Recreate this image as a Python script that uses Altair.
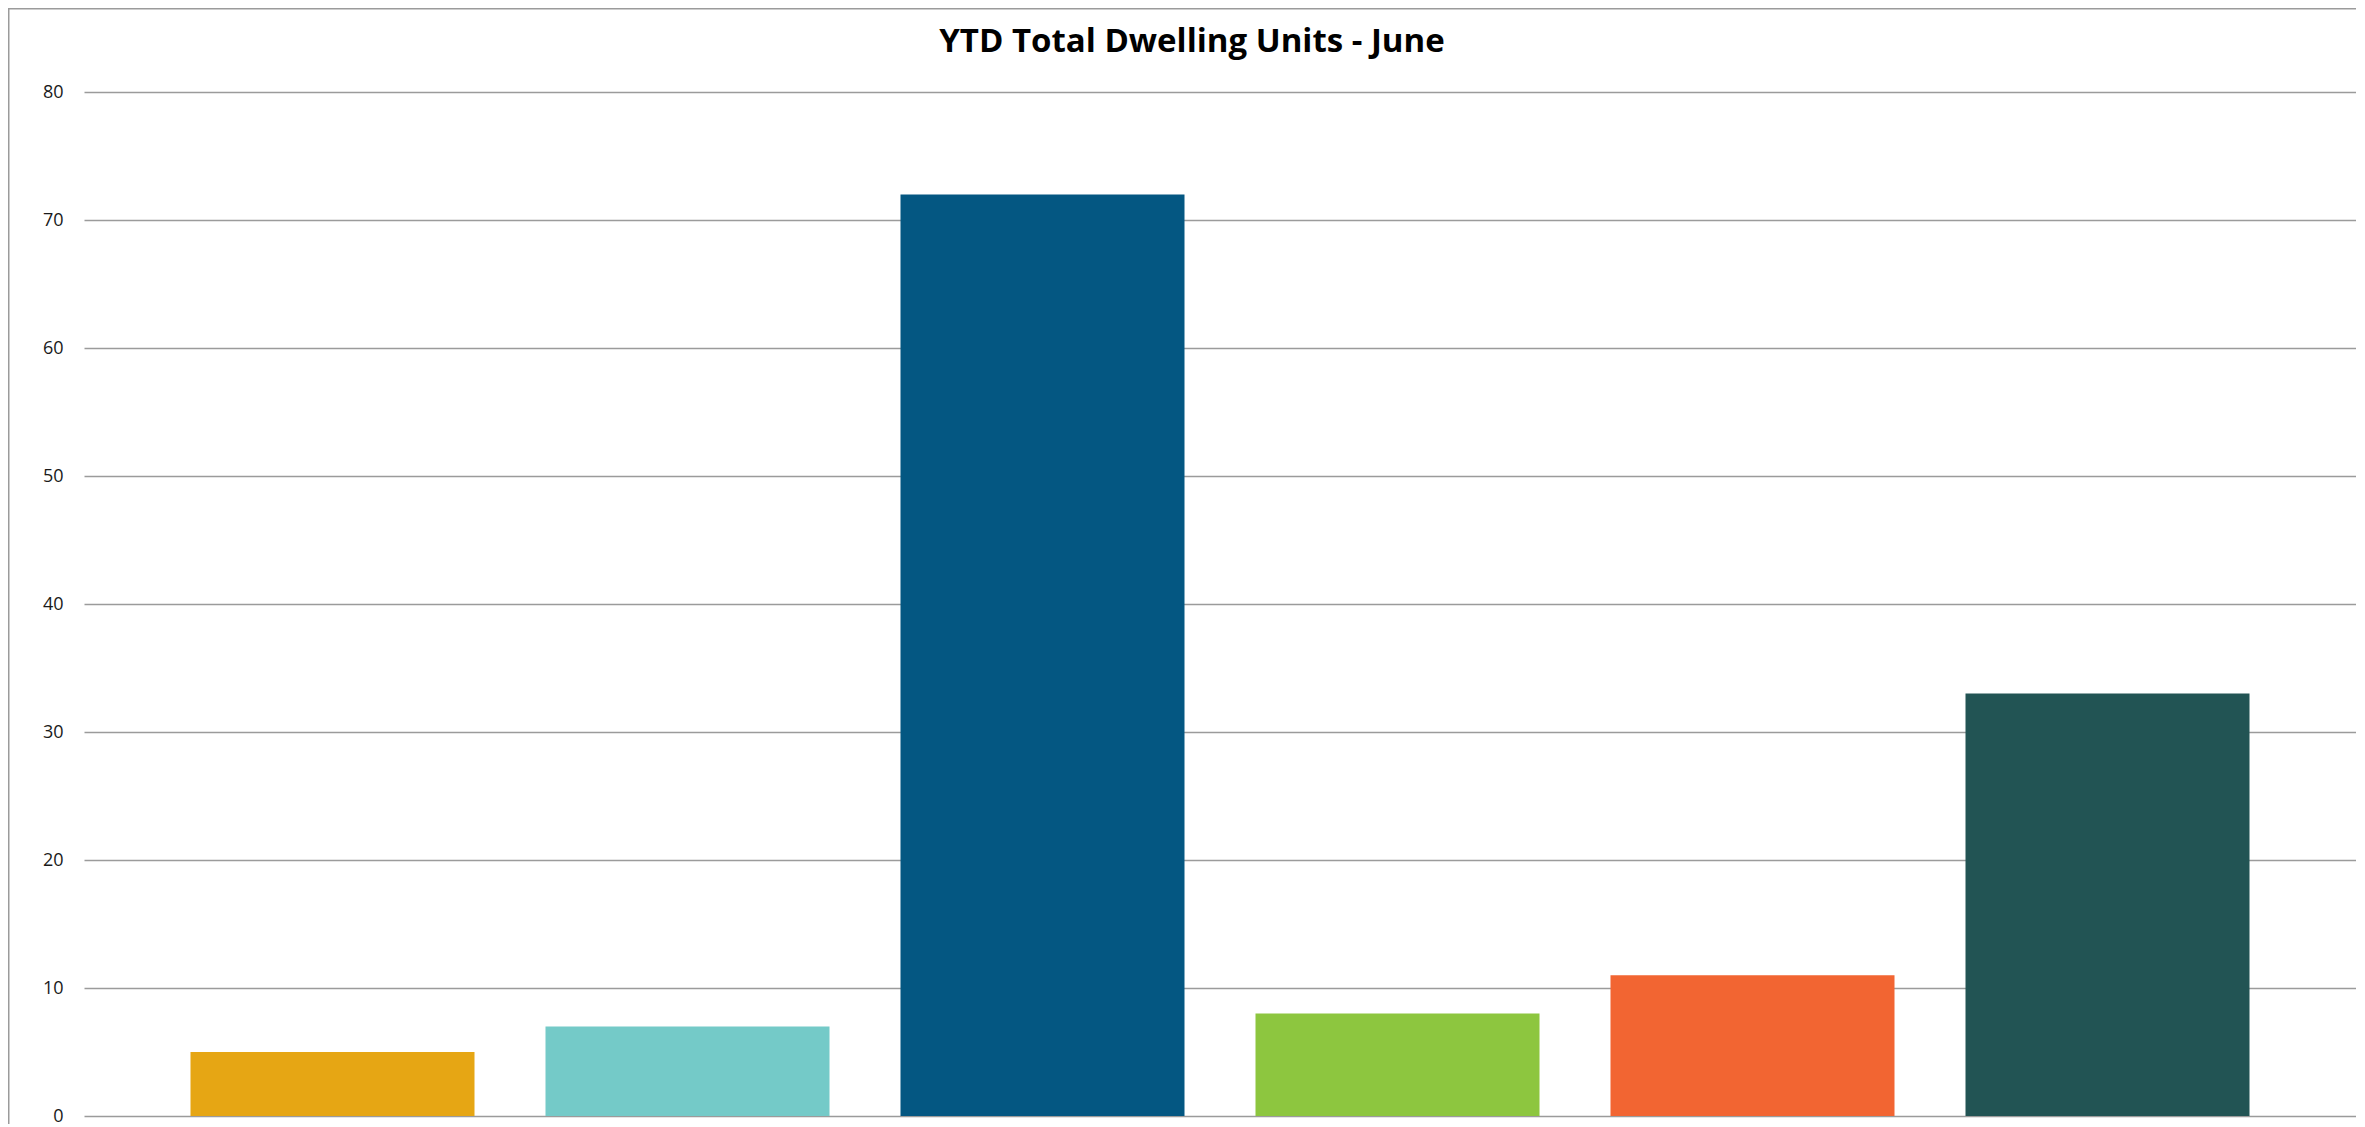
import altair as alt
import pandas as pd

categories = ["Category A", "Category B", "Category C", "Category D", "Category E", "Category F"]
values = [5, 7, 72, 8, 11, 33]
colors = ["#E6A614", "#74CAC8", "#045782", "#8DC63F", "#F26532", "#225454"]
y_ticks = [0, 10, 20, 30, 40, 50, 60, 70, 80]

df = pd.DataFrame({"category": categories, "value": values})

W = 2272
H = 1024

bars = alt.Chart(df).mark_bar().encode(
    x=alt.X("category:N", sort=categories, axis=None,
            scale=alt.Scale(paddingInner=0.2, paddingOuter=0.3)),
    y=alt.Y("value:Q",
            scale=alt.Scale(domain=[0, 80], nice=False, zero=True),
            axis=alt.Axis(values=y_ticks, title=None, domain=False, ticks=False,
                          grid=True, gridColor="#9B9B9B", gridWidth=1.5,
                          labelFont="Open Sans", labelFontSize=18, labelColor="#1a1a1a",
                          labelPadding=21)),
    color=alt.Color("category:N", sort=categories,
                    scale=alt.Scale(domain=categories, range=colors), legend=None),
)

frame_data = alt.Data(values=[{"a": 1}])
left_border = alt.Chart(frame_data).mark_rule(color="#9B9B9B", strokeWidth=1.5).encode(
    x=alt.value(-75.25), y=alt.value(-84), y2=alt.value(H + 30)
)
top_border = alt.Chart(frame_data).mark_rule(color="#9B9B9B", strokeWidth=1.5).encode(
    x=alt.value(-76), x2=alt.value(W + 10), y=alt.value(-83.25)
)

chart = alt.layer(bars, left_border, top_border).properties(
    width=W,
    height=H,
    background="white",
    title=alt.TitleParams(
        "YTD Total Dwelling Units - June",
        font="Open Sans", fontSize=33, fontWeight="bold", color="#000000",
        anchor="middle", frame="group", baseline="alphabetic", offset=-78, dx=-28,
    ),
    autosize=alt.AutoSizeParams(type="none"),
    padding={"left": 76, "top": 84, "right": 0, "bottom": 8},
).configure_view(stroke="transparent", strokeWidth=0)

chart.save("out.html", embed_options={"renderer": "svg", "actions": False})
